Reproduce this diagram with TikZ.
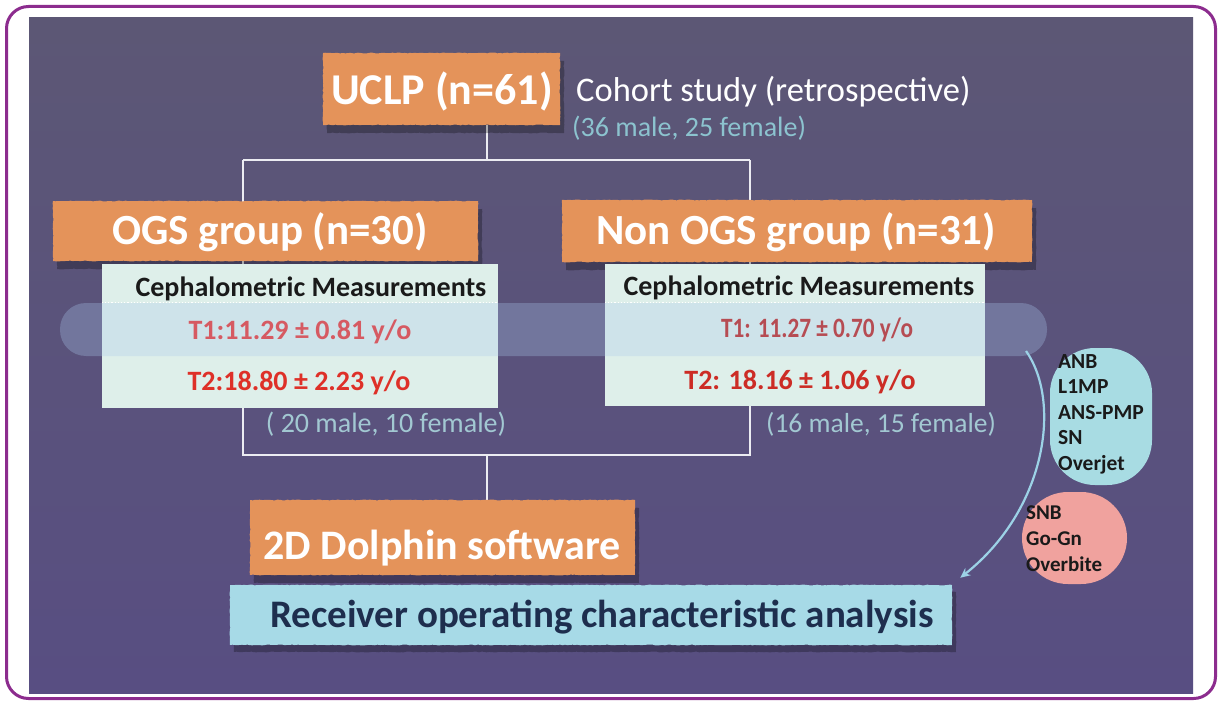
\documentclass[tikz,border=0pt]{standalone}
\usepackage{fontspec}
\setmainfont{Carlito}
\usetikzlibrary{arrows.meta,shadows,decorations.pathmorphing}

\definecolor{framec}{HTML}{8C2C8E}
\definecolor{bgtop}{HTML}{5C5775}
\definecolor{bgbot}{HTML}{584E82}
\definecolor{orangec}{HTML}{E4935A}
\definecolor{mintc}{HTML}{DEEFEA}
\definecolor{bandc}{HTML}{AAC8EC}
\definecolor{rocc}{HTML}{A7DAE7}
\definecolor{roctext}{HTML}{1E2E4E}
\definecolor{pillc}{HTML}{A8DCE3}
\definecolor{pinkc}{HTML}{F0A29E}
\definecolor{arcc}{HTML}{9CD2E6}
\definecolor{tonec}{HTML}{D65A62}
\definecolor{ttwoc}{HTML}{DE3028}
\definecolor{gendc}{HTML}{A2C8D2}
\definecolor{gendtop}{HTML}{8CC3CF}
\definecolor{inkc}{HTML}{1A1A1A}
\definecolor{connc}{HTML}{ECECF2}

\newcommand\fsz[2]{\fontsize{#1}{#2}\selectfont}

\pgfdeclarelayer{bg}
\pgfdeclarelayer{lines}
\pgfsetlayers{bg,lines,main}

\begin{document}
\begin{tikzpicture}[x=1pt,y=-1pt,
  conn/.style={draw=connc, line width=1.8pt},
  obox/.style={fill=orangec, inner sep=0pt, decorate,
    decoration={random steps,segment length=2.5pt,amplitude=0.4pt},
    drop shadow={shadow xshift=4pt,shadow yshift=-8pt,fill=black,opacity=0.28}},
  bbox/.style={fill=rocc, inner sep=0pt, decorate,
    decoration={random steps,segment length=2.5pt,amplitude=0.4pt},
    drop shadow={shadow xshift=4pt,shadow yshift=-7pt,fill=black,opacity=0.28}},
  mbox/.style={fill=mintc, inner sep=0pt},
  otext/.style={text=white, inner sep=0pt},
  lbl/.style={inner sep=0pt},
  arcarrow/.style={draw=arcc, line width=2.2pt, -{Stealth[length=10pt,width=9pt]}}]

\useasboundingbox (0,0) rectangle (1222,703);

% slide background and frame
\begin{pgfonlayer}{bg}
  \fill[white] (0,0) rectangle (1222,703);
  \shade[top color=bgtop,bottom color=bgbot] (29,18) rectangle (1193,693);
  \draw[framec, line width=3pt, rounded corners=22pt] (6.5,6.5) rectangle (1215.5,698.5);
\end{pgfonlayer}

% junction points of the tree
\coordinate (jl) at (243,160);
\coordinate (jr) at (750,160);
\coordinate (bl) at (243,455);
\coordinate (br) at (750,455);
\coordinate (bm) at (487,455);

% top box
\node[obox, minimum width=237pt, minimum height=72pt] (uclp) at (441.5,89) {};
\node[otext, font=\fsz{44}{50}\bfseries] (uclpl) at (442,92) {UCLP (n=61)};
\node[lbl, anchor=west, text=white, font=\fsz{34.5}{40}] (cohort) at (576,92) {Cohort study (retrospective)};
\node[lbl, anchor=west, text=gendtop, font=\fsz{28}{32}] (cohortg) at (572,128) {(36 male, 25 female)};

% group headers
\node[obox, minimum width=425pt, minimum height=60pt] (ogs) at (265.5,231) {};
\node[otext, font=\fsz{43}{50}\bfseries] (ogsl) at (270,232) {OGS group (n=30)};
\node[obox, minimum width=470pt, minimum height=62pt] (nogs) at (797,231) {};
\node[otext, font=\fsz{43}{50}\bfseries] (nogsl) at (796,232) {Non OGS group (n=31)};

% measurement panels
\node[mbox, minimum width=396pt, minimum height=144pt] (ogsm) at (300,336) {};
\node[mbox, minimum width=380pt, minimum height=142pt] (nogsm) at (795,335) {};

% highlight band
\node[fill=bandc, fill opacity=0.3, rounded corners=26pt, minimum width=987pt,
      minimum height=53pt, inner sep=0pt] (band) at (553.5,329.5) {};
\draw[white, dotted, line width=1.2pt] (ogsm.west |- band.north) -- (ogsm.east |- band.north);
\draw[white, dotted, line width=1.2pt] (nogsm.west |- band.north) -- (nogsm.east |- band.north);

\node[lbl, text=inkc, font=\fsz{28}{32}\bfseries] (ogsc) at (311,289) {Cephalometric Measurements};
\node[lbl, text=tonec, font=\fsz{28}{32}\bfseries] (ogst1) at (300,332) {T1:11.29 ± 0.81 y/o};
\node[lbl, text=ttwoc, font=\fsz{28}{32}\bfseries] (ogst2) at (299,383) {T2:18.80 ± 2.23 y/o};
\node[lbl, text=inkc, font=\fsz{28}{32}\bfseries] (nogsc) at (799,288) {Cephalometric Measurements};
\node[lbl, text=tonec!85!black, font=\fsz{28}{32}\bfseries] (nogst1) at (817,330)
  {\scalebox{0.83}[1]{T1: 11.27 ± 0.70 y/o}};
\node[lbl, text=ttwoc!92!black, font=\fsz{28}{32}\bfseries] (nogst2) at (800,382) {T2: 18.16 ± 1.06 y/o};

\node[lbl, text=gendc, font=\fsz{28}{32}] (ogsg) at (386,424) {( 20 male, 10 female)};
\node[lbl, text=gendc, font=\fsz{27.5}{32}] (nogsg) at (881,424) {(16 male, 15 female)};

% software and analysis
\node[obox, minimum width=385pt, minimum height=75pt] (dolphin) at (442.5,537.5) {};
\node[otext, font=\fsz{42}{48}\bfseries] (dolphinl) at (442,548) {2D Dolphin software};
\node[bbox, minimum width=722pt, minimum height=60pt] (roc) at (591,615) {};
\node[lbl, text=roctext, font=\fsz{39}{44}\bfseries] (rocl) at (602,617) {Receiver operating characteristic analysis};

% tree connectors
\begin{pgfonlayer}{lines}
  \draw[conn] (uclp.south -| bm) -- (bm |- jl);
  \draw[conn] (jl) -- (jr);
  \draw[conn] (jl) -- (bl) -- (br) -- (jr);
  \draw[conn] (bm) -- (bm |- dolphin.north);
\end{pgfonlayer}

% variable groups
\node[fill=pillc, rounded corners=45pt, minimum width=102pt, minimum height=137pt,
      inner sep=0pt] (pill) at (1101,416.5) {};
\node[lbl, anchor=west, align=left, text=inkc, font=\fsz{21.5}{25.5}\bfseries] (pilll) at (1058,414)
  {ANB\\L1MP\\ANS-PMP\\SN\\Overjet};
\node[fill=pinkc, rounded corners=46pt, minimum width=105pt, minimum height=92pt,
      inner sep=0pt] (pink) at (1074.5,538) {};
\node[lbl, anchor=west, align=left, text=inkc, font=\fsz{21}{26}\bfseries] (pinkl) at (1026,539)
  {SNB\\Go-Gn\\Overbite};

% arrow to the analysis box
\coordinate (arcstart) at (1026,351);
\coordinate (arcend) at ([shift={(8,-7)}]roc.north east);
\draw[arcarrow] (arcstart) .. controls (1062,402) and (1046,510) .. (arcend);

\end{tikzpicture}
\end{document}
